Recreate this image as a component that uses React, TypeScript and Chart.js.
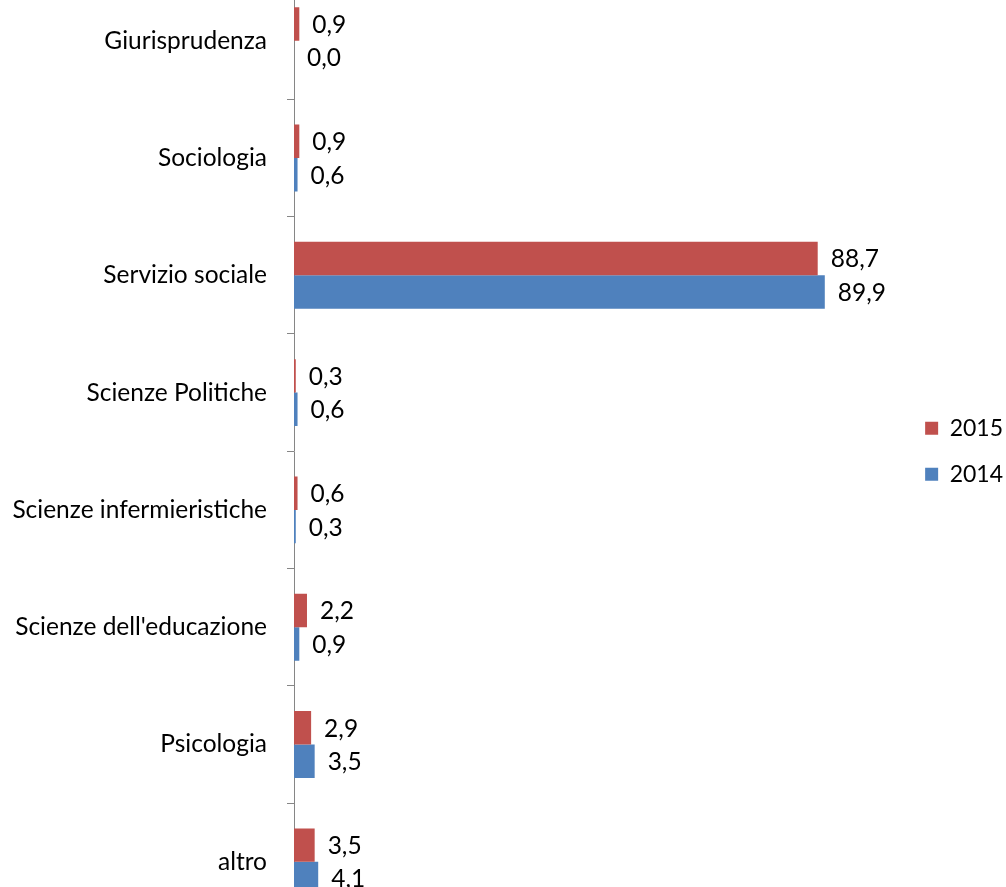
import React, { useEffect, useRef } from 'react';
import { Chart, registerables } from 'chart.js';

Chart.register(...registerables);

const categories = [
  'Giurisprudenza',
  'Sociologia',
  'Servizio sociale',
  'Scienze Politiche',
  'Scienze infermieristiche',
  "Scienze dell'educazione",
  'Psicologia',
  'altro',
];
const seriesLabels = ['2015', '2014'];
const values2015 = [0.9, 0.9, 88.7, 0.3, 0.6, 2.2, 2.9, 3.5];
const values2014 = [0.0, 0.6, 89.9, 0.6, 0.3, 0.9, 3.5, 4.1];

const FONT = 'Lato, "Liberation Sans", sans-serif';
const FONT_SIZE = 24.5;
const LEGEND_FONT_SIZE = 23;
const AXIS_COLOR = '#868686';

const fmt = (v: number) => v.toFixed(1).replace('.', ',');

const valueLabels = {
  id: 'valueLabels',
  afterDatasetsDraw(chart: any) {
    const ctx = chart.ctx;
    ctx.save();
    ctx.font = `${FONT_SIZE}px ${FONT}`;
    ctx.fillStyle = '#000';
    ctx.textAlign = 'left';
    ctx.textBaseline = 'middle';
    chart.data.datasets.forEach((ds: any, di: number) => {
      const meta = chart.getDatasetMeta(di);
      meta.data.forEach((el: any, i: number) => {
        ctx.fillText(fmt(ds.data[i]), el.x + 13, el.y + 1);
      });
    });
    ctx.restore();
  },
};

export default function App() {
  const ref = useRef<HTMLCanvasElement | null>(null);
  useEffect(() => {
    if (!ref.current) return;
    const chart = new Chart(ref.current, {
      type: 'bar',
      data: {
        labels: categories,
        datasets: [
          {
            label: seriesLabels[0],
            data: values2015,
            backgroundColor: '#C0504D',
            categoryPercentage: 0.57,
            barPercentage: 1,
          },
          {
            label: seriesLabels[1],
            data: values2014,
            backgroundColor: '#4F81BD',
            categoryPercentage: 0.57,
            barPercentage: 1,
          },
        ],
      },
      options: {
        indexAxis: 'y',
        responsive: false,
        animation: false,
        layout: { padding: { top: 22, bottom: 19.5, left: 0, right: 12 } },
        plugins: {
          tooltip: { enabled: false },
          legend: {
            position: 'right',
            labels: {
              boxWidth: 13,
              boxHeight: 13,
              padding: 23,
              color: '#000',
              font: { family: FONT, size: LEGEND_FONT_SIZE },
            },
          },
        },
        scales: {
          x: { display: false, min: 0, max: 103 },
          y: {
            afterFit: (s: any) => {
              s.width = 294;
              s.paddingTop = 0;
              s.paddingBottom = 0;
            },
            grid: {
              drawOnChartArea: false,
              drawTicks: true,
              tickLength: 7,
              color: AXIS_COLOR,
              offset: true,
            },
            border: { display: true, color: AXIS_COLOR, width: 1 },
            ticks: {
              padding: 20,
              color: '#000',
              font: { family: FONT, size: FONT_SIZE },
            },
          },
        },
      },
      plugins: [valueLabels],
    });
    return () => chart.destroy();
  }, []);
  return (
    <div
      style={{
        position: 'fixed',
        top: 0,
        left: 0,
        width: 1006,
        height: 887,
        overflow: 'hidden',
        background: '#fff',
      }}
    >
      <canvas
        ref={ref}
        width={1025}
        height={980}
        style={{ position: 'absolute', top: -40, left: 0, width: 1025, height: 980 }}
      />
    </div>
  );
}
